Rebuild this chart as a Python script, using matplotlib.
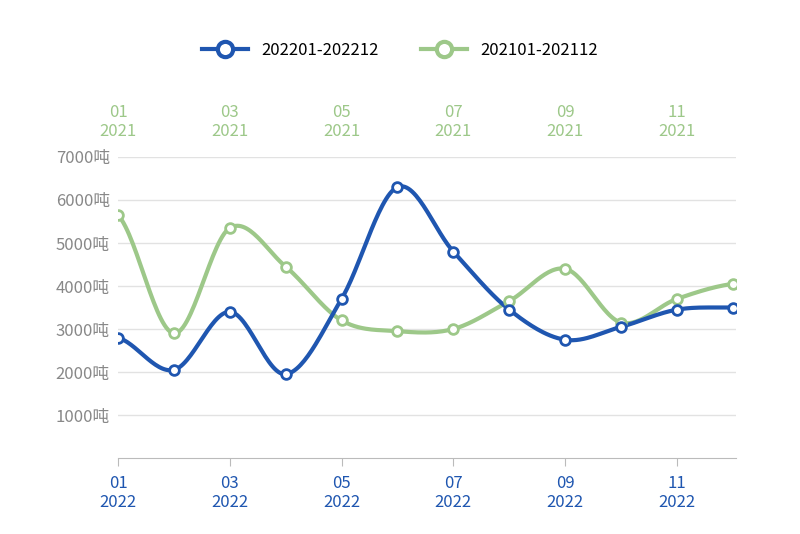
import matplotlib
matplotlib.use("Agg")
import matplotlib.pyplot as plt
import numpy as np

plt.rcParams['font.family'] = ['Noto Sans CJK SC', 'DejaVu Sans']

months = ["01","02","03","04","05","06","07","08","09","10","11","12"]
s2022 = [2800,2050,3400,1950,3700,6300,4800,3450,2750,3050,3450,3500]
s2021 = [5650,2900,5350,4450,3200,2950,3000,3650,4400,3150,3700,4050]
yticks = [1000,2000,3000,4000,5000,6000,7000]
blue = "#1f56b0"
green = "#9dc889"

def smooth(y, n=30):
    y = np.asarray(y, float); x = np.arange(len(y))
    p = np.concatenate([[y[0]], y, [y[-1]]])
    xs, ys = [], []
    for i in range(len(y)-1):
        p0, p1, p2, p3 = p[i], p[i+1], p[i+2], p[i+3]
        t = np.linspace(0, 1, n, endpoint=False)
        yy = 0.5*((2*p1)+(-p0+p2)*t+(2*p0-5*p1+4*p2-p3)*t**2+(-p0+3*p1-3*p2+p3)*t**3)
        xs.append(i+t); ys.append(yy)
    xs.append([x[-1]]); ys.append([y[-1]])
    return np.concatenate(xs), np.concatenate(ys)

fig = plt.figure(figsize=(8,5.34), dpi=100)
ax = fig.add_axes([0.1475, 0.1423, 0.772, 0.5637])
x = np.arange(12)
for s, c, lab in [(s2021, green, "202101-202112"), (s2022, blue, "202201-202212")]:
    xs, ys = smooth(s)
    ax.plot(xs, ys, color=c, lw=3, zorder=3)
    ax.plot(x, s, 'o', ms=7, mfc='white', mec=c, mew=2, zorder=4)

ax.set_xlim(0, 11.05)
ax.set_ylim(0, 7000)
ax.set_yticks(yticks)
ax.set_yticklabels([f"{v}吨" for v in yticks], color="#888888", fontsize=12)
ax.grid(axis='y', color="#e2e2e2", lw=1)
for sp in ['top','right','left']:
    ax.spines[sp].set_visible(False)
ax.spines['bottom'].set_color("#bbbbbb")
ax.tick_params(axis='y', length=0, pad=6)
ax.set_xticks(x[::2])
ax.set_xticklabels([f"{m}\n2022" for m in months[::2]], color=blue, fontsize=12)
ax.tick_params(axis='x', length=6, color="#bbbbbb", pad=6)

ax2 = ax.twiny()
ax2.set_xlim(ax.get_xlim())
ax2.set_xticks(x[::2])
ax2.set_xticklabels([f"{m}\n2021" for m in months[::2]], color=green, fontsize=12)
ax2.tick_params(axis='x', length=0, pad=12)
for sp in ax2.spines.values():
    sp.set_visible(False)

from matplotlib.lines import Line2D
h = [Line2D([], [], color=blue, lw=3, marker='o', ms=11, mfc='white', mec=blue, mew=3),
     Line2D([], [], color=green, lw=3, marker='o', ms=11, mfc='white', mec=green, mew=3)]
fig.legend(h, ["202201-202212", "202101-202112"], loc='center', bbox_to_anchor=(0.5, 0.905),
           ncol=2, frameon=False, fontsize=12, handlelength=2.8, columnspacing=2.5)
fig.savefig("out.png", dpi=100, facecolor="white")
